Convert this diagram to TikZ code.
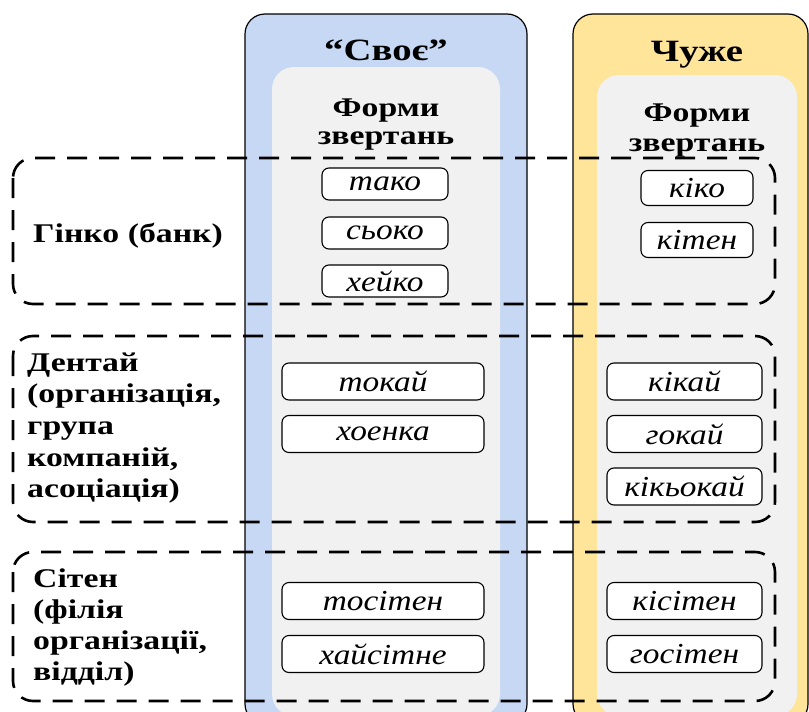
\documentclass[tikz,border=0pt]{standalone}
\usepackage{fontspec}
\setmainfont{Liberation Serif}
\newfontfamily\boldst{Liberation Serif}[FakeStretch=1.25]
\newfontfamily\italst{Liberation Serif}[FakeStretch=1.15]
\definecolor{colblue}{HTML}{C6D8F3}
\definecolor{colyellow}{HTML}{FFE599}
\definecolor{panelgray}{HTML}{F1F1F1}
\begin{document}
\begin{tikzpicture}[x=1pt,y=-1pt,
 colbox/.style={draw=black, line width=1.2pt, rounded corners=20pt},
 panel/.style={fill=panelgray, rounded corners=22pt},
 form/.style={draw=black, fill=white, line width=1.1pt, rounded corners=7pt, inner sep=0pt, font=\italst\itshape\fontsize{29}{29}\selectfont},
 region/.style={draw=black, line width=2.6pt, dash pattern=on 20pt off 12pt, rounded corners=20pt},
 lbl/.style={anchor=base west, inner sep=0pt, font=\boldst\bfseries\fontsize{27}{27}\selectfont},
 head/.style={anchor=base, inner sep=0pt, font=\boldst\bfseries\fontsize{27}{27}\selectfont},
 title/.style={anchor=base, inner sep=0pt, font=\boldst\bfseries\fontsize{31}{31}\selectfont},
]
\useasboundingbox (0,0) rectangle (809,712);
\clip (0,0) rectangle (809,712);
\fill[white] (0,0) rectangle (809,712);
% columns
\filldraw[colbox, fill=colblue] (245,14) rectangle (527,724);
\fill[panel] (272,67) rectangle (500,716);
\filldraw[colbox, fill=colyellow] (573,14) rectangle (808,724);
\fill[panel] (597,75) rectangle (797,716);
% titles
\node[title] (tsv) at (386,60) {“Своє”};
\node[title] (tch) at (697,61) {Чуже};
\node[head] (fs1) at (386,116) {Форми};
\node[head] (fs2) at (386,144) {звертань};
\node[head] (fc1) at (697,121) {Форми};
\node[head] (fc2) at (697,151) {звертань};
% forms - ginko
\node[form, minimum width=126pt, minimum height=32pt] (g1) at (385,184) {тако};
\node[form, minimum width=126pt, minimum height=32pt] (g2) at (385,233) {сьоко};
\node[form, minimum width=126pt, minimum height=32pt] (g3) at (385,281) {хейко};
\node[form, minimum width=112pt, minimum height=35pt] (g4) at (697,188) {кіко};
\node[form, minimum width=112pt, minimum height=35pt] (g5) at (697,240) {кітен};
% forms - dentai
\node[form, minimum width=202pt, minimum height=37pt] (d1) at (383,381.5) {токай};
\node[form, minimum width=202pt, minimum height=37pt] (d2) at (383,434) {хоенка};
\node[form, minimum width=155pt, minimum height=37pt] (d3) at (684.5,381.5) {кікай};
\node[form, minimum width=155pt, minimum height=37pt] (d4) at (684.5,434) {гокай};
\node[form, minimum width=155pt, minimum height=37pt] (d5) at (684.5,486.5) {кікьокай};
% forms - siten
\node[form, minimum width=202pt, minimum height=37pt] (s1) at (383,601) {тосітен};
\node[form, minimum width=202pt, minimum height=37pt] (s2) at (383,654) {хайсітне};
\node[form, minimum width=155pt, minimum height=37pt] (s3) at (684.5,601) {кісітен};
\node[form, minimum width=155pt, minimum height=37pt] (s4) at (684.5,654) {госітен};
% left labels
\node[lbl] (lg) at (33,242) {Гінко (банк)};
\node[lbl] (ld1) at (27,371) {Дентай};
\node[lbl] (ld2) at (27,402) {(організація,};
\node[lbl] (ld3) at (27,434) {група};
\node[lbl] (ld4) at (27,466) {компаній,};
\node[lbl] (ld5) at (27,497) {асоціація)};
\node[lbl] (ls1) at (33,587) {Сітен};
\node[lbl] (ls2) at (33,618) {(філія};
\node[lbl] (ls3) at (33,649) {організації,};
\node[lbl] (ls4) at (33,680) {відділ)};
% dashed regions
\draw[region] (13,158) rectangle (775,304);
\draw[region] (13,336) rectangle (775,522);
\draw[region] (13,552) rectangle (775,701);
\end{tikzpicture}
\end{document}
